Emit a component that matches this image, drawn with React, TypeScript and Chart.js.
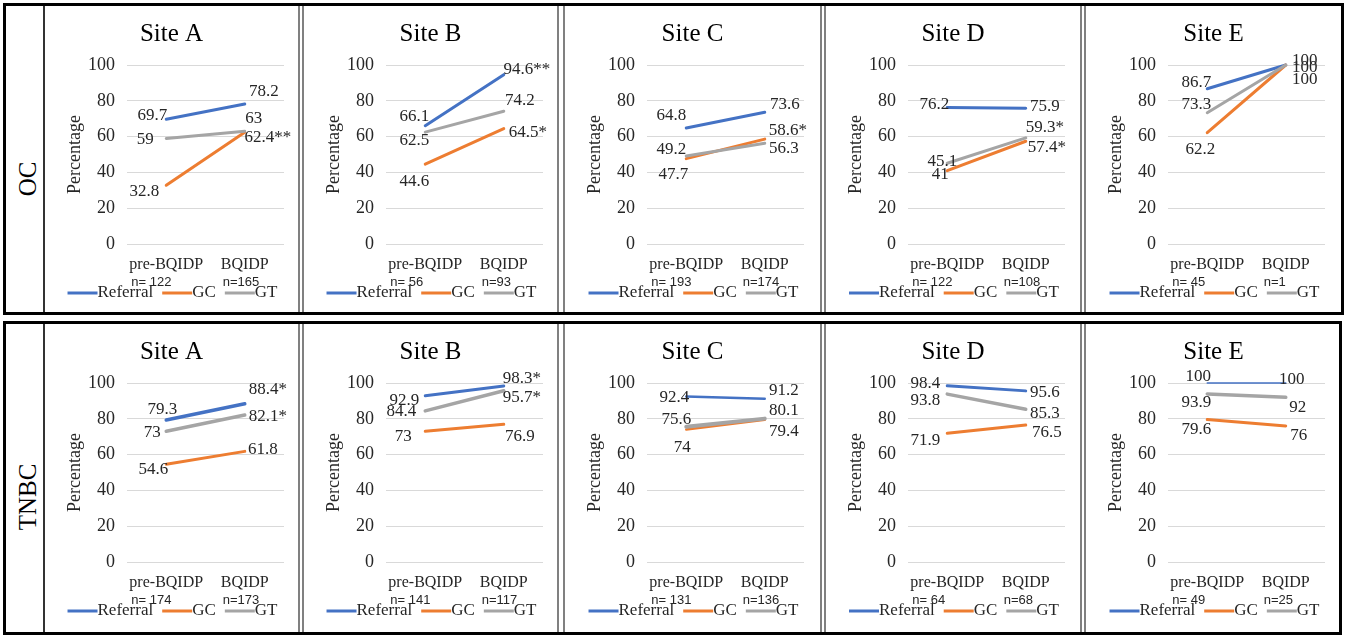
import React, { useEffect, useRef } from 'react';
import { Chart, registerables } from 'chart.js';

Chart.register(...registerables);

// ---------------- data ----------------
const categories = ['pre-BQIDP', 'BQIDP'];
const seriesNames = ['Referral', 'GC', 'GT'];
const seriesColors = ['#4472C4', '#ED7D31', '#A5A5A5'];
const siteNames = ['Site A', 'Site B', 'Site C', 'Site D', 'Site E'];
const groupNames = ['OC', 'TNBC'];

// OC
const ocN = [[122, 165], [56, 93], [193, 174], [122, 108], [45, 1]];
const ocReferral = [[69.7, 78.2], [66.1, 94.6], [64.8, 73.6], [76.2, 75.9], [86.7, 100]];
const ocGC = [[32.8, 62.4], [44.6, 64.5], [47.7, 58.6], [41, 57.4], [62.2, 100]];
const ocGT = [[59, 63], [62.5, 74.2], [49.2, 56.3], [45.1, 59.3], [73.3, 100]];
const ocReferralSig = [['', ''], ['', '**'], ['', ''], ['', ''], ['', '']];
const ocGCSig = [['', '**'], ['', '*'], ['', '*'], ['', '*'], ['', '']];
const ocGTSig = [['', ''], ['', ''], ['', ''], ['', '*'], ['', '']];

// TNBC
const tnbcN = [[174, 173], [141, 117], [131, 136], [64, 68], [49, 25]];
const tnbcReferral = [[79.3, 88.4], [92.9, 98.3], [92.4, 91.2], [98.4, 95.6], [100, 100]];
const tnbcGC = [[54.6, 61.8], [73, 76.9], [74, 79.4], [71.9, 76.5], [79.6, 76]];
const tnbcGT = [[73, 82.1], [84.4, 95.7], [75.6, 80.1], [93.8, 85.3], [93.9, 92]];
const tnbcReferralSig = [['', '*'], ['', '*'], ['', ''], ['', ''], ['', '']];
const tnbcGCSig = [['', ''], ['', ''], ['', ''], ['', ''], ['', '']];
const tnbcGTSig = [['', '*'], ['', '*'], ['', ''], ['', ''], ['', '']];

const yTicks = [0, 20, 40, 60, 80, 100];

// ---------------- layout / style (not data) ----------------
// data-label offsets from the point: [panel][series][point] = [dx, dy]
const ocLabelOffsets = [
  [[[-14, -4], [19, -12]], [[-22, 6], [23, 5]], [[-21, 1], [9, -13]]],
  [[[-11, -9], [23, -5]], [[-11, 17], [24, 4]], [[-11, 8], [16, -11]]],
  [[[-15, -12], [20, -8]], [[-13, 16], [23, -9]], [[-15, -6], [19, 5]]],
  [[[-13, -3], [19, -2]], [[-7, 4], [21, 6]], [[-5, -2], [19, -10]]],
  [[[-11, -6], [19, -4]], [[-7, 17], [19, 15]], [[-11, -8], [19, 3]]],
];
const tnbcLabelOffsets = [
  [[[-4, -11], [23, -14]], [[-13, 5], [18, -2]], [[-14, 1], [23, 1]]],
  [[[-21, 5], [18, -8]], [[-22, 5], [16, 12]], [[-24, 1], [18, 7]]],
  [[[-12, 1], [19, -8]], [[-4, 18], [19, 12]], [[-10, -7], [19, -8]]],
  [[[-22, -2], [19, 2]], [[-22, 7], [21, 7]], [[-22, 6], [19, 4]]],
  [[[-9, -6], [6, -3]], [[-11, 10], [13, 10]], [[-11, 9], [12, 10]]],
];

const panelLefts = [45, 304, 565, 826, 1086];
const panelWidths = [253, 253, 255, 254, 255];
const separators = [[298, 304], [557, 565], [820, 826], [1080, 1086]];
const CANVAS_H = 306;
const AREA_LEFT = 82;
const AREA_W = 157;

const SERIF = '"Liberation Serif", "Times New Roman", serif';
const SANS = '"Liberation Sans", Arial, sans-serif';
const TEXT = '#262626';

type PanelProps = {
  left: number;
  top: number;
  width: number;
  title: string;
  n: number[];
  values: number[][];
  sig: string[][];
  offsets: number[][][];
  lineWidths: number[];
};

function Panel({ left, top, width, title, n, values, sig, offsets, lineWidths }: PanelProps) {
  const ref = useRef<HTMLCanvasElement>(null);
  useEffect(() => {
    const canvas = ref.current;
    if (!canvas) return;
    const overlay = {
      id: 'overlay',
      afterDraw(chart: any) {
        const ctx = chart.ctx as CanvasRenderingContext2D;
        const area = chart.chartArea;
        const xs = chart.scales.x;
        const ys = chart.scales.y;
        ctx.save();
        ctx.fillStyle = '#000';
        ctx.textBaseline = 'middle';
        // title
        ctx.font = `25px ${SERIF}`;
        ctx.textAlign = 'center';
        ctx.fillText(title, width / 2, 28);
        // data labels
        ctx.font = `17px ${SERIF}`;
        ctx.fillStyle = TEXT;
        values.forEach((vals, s) => {
          vals.forEach((v, i) => {
            const x = xs.getPixelForValue(i);
            const y = ys.getPixelForValue(v);
            const [dx, dy] = offsets[s][i];
            ctx.fillText(String(v) + sig[s][i], x + dx, y + dy);
          });
        });
        // category labels + n
        categories.forEach((c, i) => {
          const x = xs.getPixelForValue(i);
          ctx.font = `16px ${SERIF}`;
          ctx.textAlign = 'center';
          ctx.fillStyle = TEXT;
          ctx.fillText(c, x, area.bottom + 21);
          const w = ctx.measureText(c).width;
          ctx.font = `13px ${SANS}`;
          ctx.textAlign = 'left';
          const txt = i === 0 ? `n= ${n[i]}` : `n=${n[i]}`;
          ctx.fillText(txt, x - w / 2 + 2, area.bottom + 38);
        });
        // legend
        ctx.font = `17px ${SERIF}`;
        const LINE = 30;
        const GAP = 9;
        const tws = seriesNames.map((s) => ctx.measureText(s).width);
        const total = tws.reduce((a, b) => a + b, 0) + LINE * 3 + GAP * 2;
        let sx = width / 2 + 1 - total / 2;
        const ly = area.bottom + 49;
        seriesNames.forEach((s, k) => {
          ctx.strokeStyle = seriesColors[k];
          ctx.lineWidth = 3;
          ctx.beginPath();
          ctx.moveTo(sx, ly);
          ctx.lineTo(sx + LINE, ly);
          ctx.stroke();
          ctx.fillStyle = TEXT;
          ctx.textAlign = 'left';
          ctx.fillText(s, sx + LINE, ly);
          sx += LINE + tws[k] + GAP;
        });
        ctx.restore();
      },
    };
    const chart = new Chart(canvas, {
      type: 'line',
      data: {
        labels: categories,
        datasets: seriesNames.map((name, s) => ({
          label: name,
          data: values[s],
          borderColor: seriesColors[s],
          backgroundColor: seriesColors[s],
          borderWidth: lineWidths[s],
          pointRadius: 0,
          pointHoverRadius: 0,
          tension: 0,
          borderCapStyle: 'round' as const,
          clip: false as any,
          order: 3 - s,
        })),
      },
      options: {
        animation: false,
        responsive: false,
        devicePixelRatio: 1,
        events: [],
        layout: {
          padding: { left: 15, right: width - AREA_LEFT - AREA_W, top: 59, bottom: 68 },
        },
        plugins: {
          legend: { display: false },
          title: { display: false },
          tooltip: { enabled: false },
        },
        scales: {
          x: {
            offset: true,
            grid: { display: false },
            border: { display: false },
            ticks: { display: false },
            afterFit: (s: any) => {
              s.height = 0;
            },
          },
          y: {
            min: 0,
            max: 100,
            afterBuildTicks: (s: any) => {
              s.ticks = yTicks.map((v) => ({ value: v }));
            },
            ticks: {
              padding: 12,
              color: TEXT,
              font: { family: SERIF, size: 18 },
            },
            grid: { color: '#d9d9d9', lineWidth: 1, drawTicks: false },
            border: { display: false },
            title: {
              display: true,
              text: 'Percentage',
              color: TEXT,
              font: { family: SERIF, size: 18 },
              padding: { top: 4, bottom: 0 },
            },
            afterFit: (s: any) => {
              s.width = AREA_LEFT - 15;
            },
          },
        },
      },
      plugins: [overlay],
    });
    return () => chart.destroy();
  }, []);
  return (
    <canvas
      ref={ref}
      width={width}
      height={CANVAS_H}
      style={{ position: 'absolute', left, top, width, height: CANVAS_H, display: 'block' }}
    />
  );
}

function Block({
  top,
  height,
  width,
  group,
  labelY,
  n,
  ref0,
  gc,
  gt,
  sig,
  offsets,
  lineWidths,
}: {
  top: number;
  height: number;
  width: number;
  group: string;
  labelY: number;
  n: number[][];
  ref0: number[][];
  gc: number[][];
  gt: number[][];
  sig: string[][][];
  offsets: number[][][][];
  lineWidths: number[][];
}) {
  const inner = top + 3;
  return (
    <>
      <div
        style={{
          position: 'absolute',
          left: 3,
          top,
          width,
          height,
          border: '3px solid #000',
          boxSizing: 'border-box',
        }}
      />
      <div style={{ position: 'absolute', left: 43, top: inner, width: 2, height: height - 6, background: '#333' }} />
      {separators.map(([a, b], i) => (
        <React.Fragment key={i}>
          <div style={{ position: 'absolute', left: a, top: inner, width: 2, height: height - 6, background: '#808080' }} />
          <div style={{ position: 'absolute', left: b - 2, top: inner, width: 2, height: height - 6, background: '#808080' }} />
        </React.Fragment>
      ))}
      <div
        style={{
          position: 'absolute',
          left: 27,
          top: labelY,
          transform: 'translate(-50%, -50%) rotate(-90deg)',
          fontFamily: SERIF,
          fontSize: 25,
          color: '#000',
          whiteSpace: 'nowrap',
          lineHeight: '25px',
        }}
      >
        {group}
      </div>
      {siteNames.map((site, p) => (
        <Panel
          key={site}
          left={panelLefts[p]}
          top={inner}
          width={panelWidths[p]}
          title={site}
          n={n[p]}
          values={[ref0[p], gc[p], gt[p]]}
          sig={[sig[0][p], sig[1][p], sig[2][p]].map((x: any) => x)}
          offsets={offsets[p]}
          lineWidths={lineWidths[p]}
        />
      ))}
    </>
  );
}

export default function App() {
  const ocSig = [ocReferralSig, ocGCSig, ocGTSig] as any;
  const tnbcSig = [tnbcReferralSig, tnbcGCSig, tnbcGTSig] as any;
  const ocWidths = [[3, 3, 3], [3, 3, 3], [3, 3, 3], [3, 3, 3], [3, 3, 3]];
  const tnbcWidths = [[3.5, 3, 3.5], [3, 3, 3.5], [2.5, 2.5, 4], [3, 3, 3.5], [1.5, 3, 3.5]];
  return (
    <div
      style={{
        position: 'absolute',
        left: 0,
        top: 0,
        width: 1348,
        height: 637,
        background: '#fff',
        overflow: 'hidden',
      }}
    >
      <Block
        top={3}
        height={312}
        width={1341}
        group={groupNames[0]}
        labelY={179}
        n={ocN}
        ref0={ocReferral}
        gc={ocGC}
        gt={ocGT}
        sig={ocSig}
        offsets={ocLabelOffsets}
        lineWidths={ocWidths}
      />
      <Block
        top={321}
        height={314}
        width={1339}
        group={groupNames[1]}
        labelY={497}
        n={tnbcN}
        ref0={tnbcReferral}
        gc={tnbcGC}
        gt={tnbcGT}
        sig={tnbcSig}
        offsets={tnbcLabelOffsets}
        lineWidths={tnbcWidths}
      />
    </div>
  );
}
